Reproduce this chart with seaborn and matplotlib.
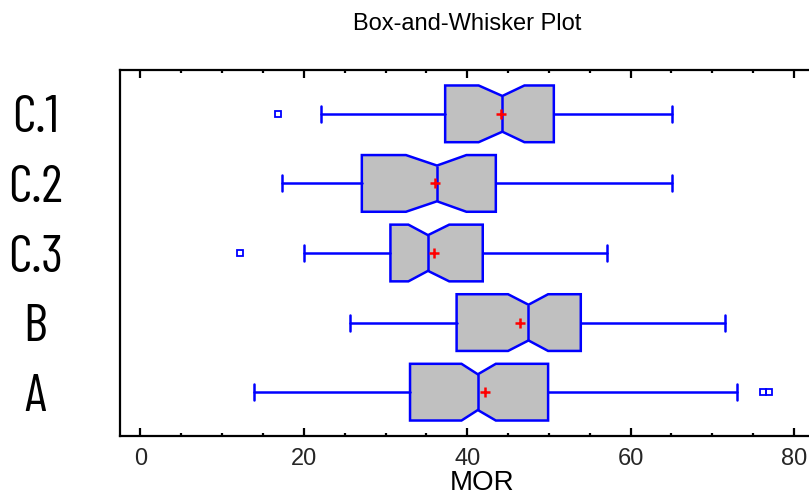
import numpy as np
import matplotlib
matplotlib.use("Agg")
import matplotlib.pyplot as plt
import seaborn as sns
from matplotlib.path import Path
from matplotlib.ticker import MultipleLocator

# -------------------------------
# Data
# -------------------------------
groups = ["C.1", "C.2", "C.3", "B", "A"]
whisker_lo = [22.1, 17.3, 20.0, 25.6, 13.9]
q1 = [37.3, 27.1, 30.6, 38.7, 33.0]
medians = [44.3, 36.3, 35.2, 47.5, 41.3]
q3 = [50.6, 43.5, 41.9, 53.9, 49.9]
whisker_hi = [65.1, 65.1, 57.1, 71.5, 73.0]
means = [44.1, 36.0, 35.9, 46.5, 42.2]
notch_lo = [41.4, 32.5, 32.8, 45.0, 39.3]
notch_hi = [47.0, 39.9, 37.8, 49.9, 43.5]
outliers = [[16.8], [], [12.2], [], [76.2, 76.9]]

sns.set_style("white")
plt.rcParams["font.family"] = ["Liberation Sans", "DejaVu Sans"]
narrow = ["Barlow Condensed", "Archivo Narrow", "Liberation Sans Narrow",
          "DejaVu Sans"]

fig = plt.figure(figsize=(8.09, 4.97), dpi=100)
ax = fig.add_axes([120 / 809, 1 - 436 / 497, 706.7 / 809, 366 / 497])

stats = []
for i, g in enumerate(groups):
    stats.append({
        "label": g,
        "whislo": whisker_lo[i],
        "q1": q1[i],
        "med": medians[i],
        "q3": q3[i],
        "whishi": whisker_hi[i],
        "cilo": notch_lo[i],
        "cihi": notch_hi[i],
        "fliers": outliers[i],
    })

pos = np.arange(len(groups))
lw = 1.8
bp = ax.bxp(
    stats,
    positions=pos,
    widths=0.815,
    capwidths=0.23,
    orientation="horizontal",
    shownotches=True,
    patch_artist=True,
    manage_ticks=False,
    boxprops=dict(facecolor="#c0c0c0", edgecolor="blue", linewidth=lw),
    whiskerprops=dict(color="blue", linewidth=lw),
    capprops=dict(color="blue", linewidth=lw),
    medianprops=dict(color="blue", linewidth=lw),
    flierprops=dict(marker="s", markersize=4, markerfacecolor="none",
                    markeredgecolor="blue", markeredgewidth=1.3),
)

# make the notch waist a bit wider (about 63% of the box)
waist = 0.63 / 0.5
for i, box in enumerate(bp["boxes"]):
    path = box.get_path()
    v = path.vertices.copy()
    at_med = np.isclose(v[:, 0], medians[i])
    v[at_med, 1] = pos[i] + (v[at_med, 1] - pos[i]) * waist
    box.set_path(Path(v, path.codes))
    ml = bp["medians"][i]
    ml.set_ydata(pos[i] + (np.asarray(ml.get_ydata()) - pos[i]) * waist)

# mean markers
sns.scatterplot(x=means, y=pos, marker="+", color="red", s=60,
                linewidth=1.8, ax=ax, zorder=5, legend=False)

ax.set_xlim(-2.5, 84)
ax.set_ylim(4.63, -0.63)

ax.xaxis.set_major_locator(MultipleLocator(20))
ax.xaxis.set_minor_locator(MultipleLocator(5))
ax.tick_params(axis="x", which="both", direction="in", top=True, bottom=True,
               width=1.6, color="black", labelsize=17, pad=8.5)
ax.tick_params(axis="x", which="major", length=5.5)
ax.tick_params(axis="x", which="minor", length=2.5)

ax.set_yticks(pos)
ax.set_yticklabels(groups, family=narrow, fontsize=38, color="black")
ax.tick_params(axis="y", length=0, pad=61)
for lab in ax.get_yticklabels():
    lab.set_ha("center")

ax.set_xlabel("")
ax.set_ylabel("")
for s in ax.spines.values():
    s.set_linewidth(1.6)
    s.set_color("black")

fig.text(482 / 809, 6.5 / 497, "MOR", ha="center", va="baseline", fontsize=20,
         color="black")
fig.text(467 / 809, 1 - 29.5 / 497, "Box-and-Whisker Plot", ha="center",
         va="baseline", fontsize=17, color="black")

fig.savefig("out.png", dpi=100)
plt.close(fig)
